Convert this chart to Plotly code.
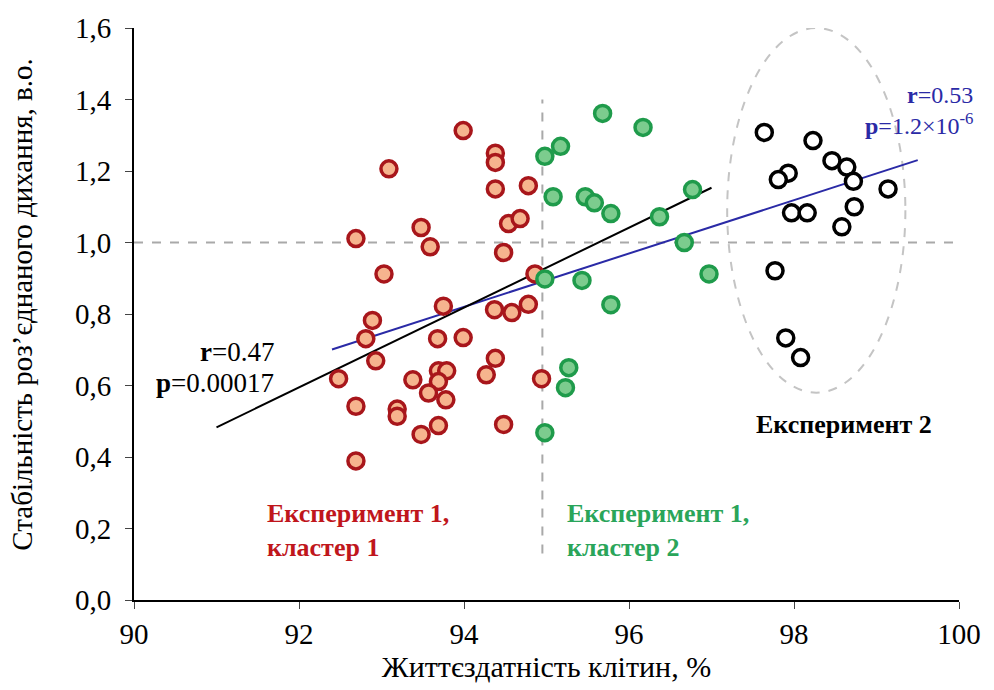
import numpy as np
import plotly.graph_objects as go

# Experiment 1, cluster 1 (red)
red_x = [93.99, 93.09, 94.38, 94.38, 94.38, 94.78, 92.69, 93.48, 93.59, 94.54,
         94.68, 94.48, 93.03, 94.86, 93.75, 92.89, 92.81, 93.68, 93.99, 94.37,
         94.58, 94.78, 92.93, 94.38, 92.48, 93.38, 93.69, 93.79, 93.69, 94.27,
         94.94, 93.57, 93.78, 92.69, 93.19, 93.19, 93.69, 93.48, 94.48, 92.69]
red_y = [1.313, 1.206, 1.250, 1.224, 1.150, 1.159, 1.011, 1.042, 0.988, 1.053,
         1.067, 0.972, 0.912, 0.912, 0.822, 0.782, 0.731, 0.731, 0.734, 0.812,
         0.804, 0.827, 0.669, 0.676, 0.619, 0.616, 0.641, 0.641, 0.611, 0.630,
         0.619, 0.579, 0.560, 0.542, 0.534, 0.514, 0.488, 0.463, 0.491, 0.389]

# Experiment 1, cluster 2 (green)
green_x = [95.68, 96.17, 95.17, 94.98, 95.08, 95.47, 95.58, 95.78, 96.37, 96.77,
           96.67, 96.97, 94.98, 95.43, 95.78, 95.27, 95.23, 94.98]
green_y = [1.361, 1.322, 1.269, 1.241, 1.128, 1.128, 1.111, 1.081, 1.072, 1.148,
           1.000, 0.912, 0.898, 0.894, 0.826, 0.650, 0.594, 0.468]

# Experiment 2 (black)
black_x = [97.64, 98.23, 98.46, 98.64, 97.93, 97.81, 98.72, 99.14, 97.97, 98.16,
           98.73, 98.58, 97.77, 97.90, 98.08]
black_y = [1.308, 1.285, 1.229, 1.211, 1.194, 1.176, 1.171, 1.150, 1.083, 1.083,
           1.100, 1.044, 0.921, 0.733, 0.678]

# x ranges over which the fitted lines are drawn
fit1_range = [91.0, 97.0]
fit_all_range = [92.4, 99.5]

x_ticks = [90, 92, 94, 96, 98, 100]
y_ticks = [0.0, 0.2, 0.4, 0.6, 0.8, 1.0, 1.2, 1.4, 1.6]

FONT = "Liberation Serif"
RED_EDGE, RED_FILL = "#a8161b", "#f6b48e"
GREEN_EDGE, GREEN_FILL = "#1f9b4b", "#7ccc8e"
BLUE = "#2a2aa6"

# least-squares fits: experiment 1 only, and all points together
e1_x = np.array(red_x + green_x)
e1_y = np.array(red_y + green_y)
all_x = np.array(red_x + green_x + black_x)
all_y = np.array(red_y + green_y + black_y)
k1, b1 = np.polyfit(e1_x, e1_y, 1)
k2, b2 = np.polyfit(all_x, all_y, 1)
fx1 = np.array(fit1_range)
fx2 = np.array(fit_all_range)

fig = go.Figure()

fig.add_trace(go.Scatter(x=fx2, y=k2 * fx2 + b2, mode="lines",
                         line=dict(color=BLUE, width=2), hoverinfo="skip"))
fig.add_trace(go.Scatter(x=fx1, y=k1 * fx1 + b1, mode="lines",
                         line=dict(color="black", width=2), hoverinfo="skip"))

marker_common = dict(size=16, symbol="circle")
fig.add_trace(go.Scatter(x=red_x, y=red_y, mode="markers",
                         marker=dict(color=RED_FILL, line=dict(color=RED_EDGE, width=3.5), **marker_common)))
fig.add_trace(go.Scatter(x=green_x, y=green_y, mode="markers",
                         marker=dict(color=GREEN_FILL, line=dict(color=GREEN_EDGE, width=3.5), **marker_common)))
fig.add_trace(go.Scatter(x=black_x, y=black_y, mode="markers",
                         marker=dict(color="white", line=dict(color="black", width=3.5), **marker_common)))

# reference lines and the experiment-2 outline
grey = dict(color="#a9a9a9", width=2, dash="dash")
shapes = [
    dict(type="line", xref="x", yref="y", x0=90, x1=100, y0=1.0, y1=1.0, line=grey, layer="below"),
    dict(type="line", xref="x", yref="y", x0=94.95, x1=94.95, y0=0.13, y1=1.40, line=grey, layer="below"),
    dict(type="circle", xref="x", yref="y", x0=97.19, x1=99.35, y0=0.58, y1=1.60,
         line=dict(color="#c4c4c4", width=2, dash="dash"), layer="below"),
]

stat_font = dict(family=FONT, size=27)
blue_font = dict(family=FONT, size=24, color=BLUE)
label_font = dict(family=FONT, size=26)
annotations = [
    dict(x=91.72, y=0.694, text="<b>r</b>=0.47", xanchor="right", font=dict(color="black", **stat_font)),
    dict(x=91.72, y=0.606, text="<b>p</b>=0.00017", xanchor="right", font=dict(color="black", **stat_font)),
    dict(x=100, y=1.412, xshift=16, text="<b>r</b>=0.53", xanchor="right", font=blue_font),
    dict(x=100, y=1.331, xshift=16, text="<b>p</b>=1.2×10<sup>-6</sup>", xanchor="right", font=blue_font),
    dict(x=98.6, y=0.492, text="<b>Експеримент 2</b>", xanchor="center", font=dict(color="black", **label_font)),
    dict(x=91.59, y=0.242, text="<b>Експеримент 1,</b>", xanchor="left", font=dict(color="#c0161c", **label_font)),
    dict(x=91.59, y=0.147, text="<b>кластер 1</b>", xanchor="left", font=dict(color="#c0161c", **label_font)),
    dict(x=95.22, y=0.242, text="<b>Експеримент 1,</b>", xanchor="left", font=dict(color="#2aa55a", **label_font)),
    dict(x=95.22, y=0.147, text="<b>кластер 2</b>", xanchor="left", font=dict(color="#2aa55a", **label_font)),
]
for a in annotations:
    a.update(xref="x", yref="y", showarrow=False)

# y-axis title placed as a rotated paper annotation
annotations.append(dict(xref="paper", yref="paper", x=-0.136, y=0.516, showarrow=False,
                        text="Стабільність роз’єднаного дихання, в.о.", textangle=-90,
                        xanchor="center", yanchor="middle",
                        font=dict(family=FONT, size=29, color="black")))

fig.update_layout(
    width=994, height=690,
    margin=dict(l=134, r=35, t=24, b=90),
    paper_bgcolor="white", plot_bgcolor="white",
    showlegend=False,
    separators=", ",
    font=dict(family=FONT, size=28, color="black"),
    shapes=shapes, annotations=annotations,
)
fig.update_xaxes(range=[90, 100], tickvals=x_ticks, ticks="outside", ticklen=7,
                 showline=True, linecolor="black", linewidth=2, showgrid=False, zeroline=False,
                 title=dict(text="Життєздатність клітин, %", standoff=4, font=dict(family=FONT, size=30)),
                 tickfont=dict(family=FONT, size=29))
fig.update_yaxes(range=[0, 1.6], tickvals=y_ticks, tickformat=".1f", ticks="outside", ticklen=7,
                 ticklabelstandoff=8,
                 showline=True, linecolor="black", linewidth=2, showgrid=False, zeroline=False,
                 tickfont=dict(family=FONT, size=29))

fig.write_html("out.html")
